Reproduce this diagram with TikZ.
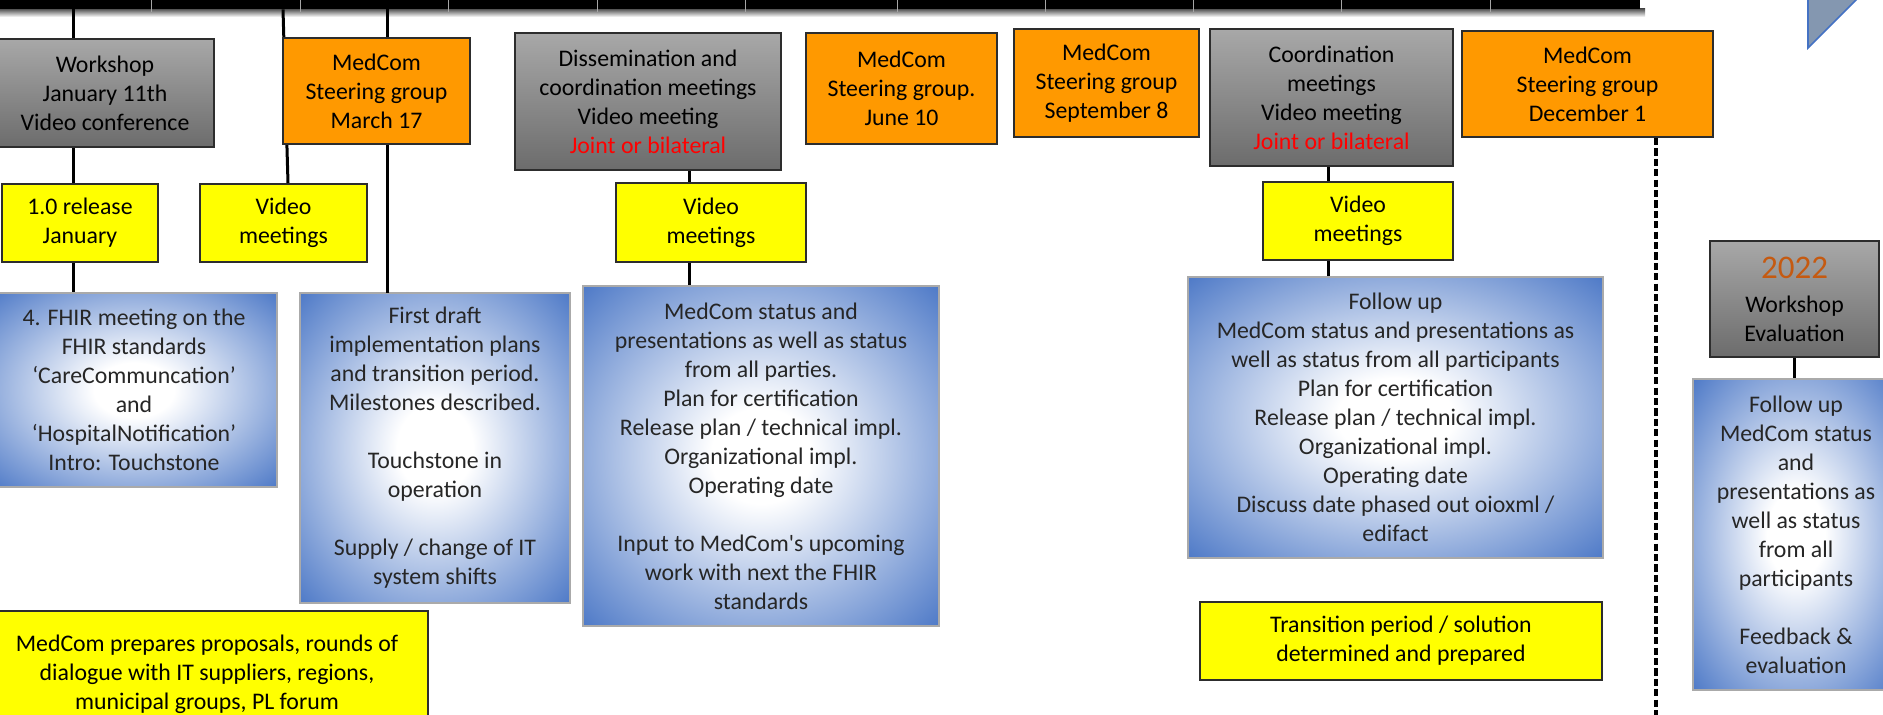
\documentclass[tikz,border=0pt]{standalone}
\usepackage{fontspec}
\setmainfont{Carlito}
\definecolor{orbox}{RGB}{255,153,0}
\definecolor{ylbox}{RGB}{255,255,0}
\definecolor{graytop}{RGB}{168,168,168}
\definecolor{graybot}{RGB}{108,108,108}
\definecolor{bluegl}{RGB}{68,114,196}
\definecolor{blueedge}{RGB}{170,170,170}
\definecolor{edgedark}{RGB}{45,45,45}
\definecolor{bluetext}{RGB}{38,38,38}
\definecolor{jred}{RGB}{255,0,0}
\definecolor{yr}{RGB}{197,90,17}
\definecolor{trifill}{RGB}{132,151,176}
\pgfdeclareradialshading{blueglow}{\pgfpointorigin}{color(0bp)=(white); color(7bp)=(white); color(37bp)=(bluegl); color(50bp)=(bluegl)}
\tikzset{
  base/.style={rectangle, inner sep=0pt, align=center, font=\fontsize{11.9}{14.5}\selectfont, line width=1pt},
  graybox/.style={base, draw=edgedark, top color=graytop, bottom color=graybot},
  orangebox/.style={base, draw=edgedark, fill=orbox},
  yellowbox/.style={base, draw=edgedark, fill=ylbox},
  bluebox/.style={base, draw=blueedge, shade, shading=blueglow, text=bluetext},
  conn/.style={line width=1.5pt, black},
  dashconn/.style={line width=1.8pt, black, dash pattern=on 3.6pt off 1.6pt},
}
\begin{document}
\begin{tikzpicture}[x=0.5pt, y=-0.5pt]
\useasboundingbox (0,0) rectangle (1883,714);
\fill[white] (0,0) rectangle (1883,714);

% x positions of connectors
\coordinate (xA) at (73,0);
\coordinate (xB) at (283,0);
\coordinate (xBb) at (288,0);
\coordinate (xC) at (387,0);
\coordinate (xD) at (689,0);
\coordinate (xE) at (1328,0);
\coordinate (xF) at (1794,0);
\coordinate (dend) at (1656,720);

% top bar
\shade[top color=black!75, bottom color=white] (-5,8) rectangle (1645,17);
\node[rectangle, fill=black, inner sep=0pt, minimum width=822.5pt, minimum height=7pt] (bar) at (817.5,2) {};
\foreach \tx in {151,300,448,597,745,897,1045,1193,1341,1490}
  \draw[gray!70, line width=0.4pt] (\tx,-2) -- (\tx,12);

% triangle top right
\filldraw[fill=trifill, draw=bluegl, line width=0.8pt] (1808,-5) -- (1808,48) -- (1861,-5) -- cycle;

% boxes
\node[graybox, minimum width=109pt, minimum height=54pt] (ws) at (105,93) {Workshop\\January 11th\\Video conference};
\node[yellowbox, minimum width=78pt, minimum height=39pt] (rel) at (80,223) {1.0 release\\January};
\node[bluebox, minimum width=143pt, minimum height=97pt] (fhir) at (134,390) {4. FHIR meeting on the\\FHIR standards\\‘CareCommuncation’\\and\\‘HospitalNotification’\\Intro: Touchstone};

\node[yellowbox, minimum width=83.5pt, minimum height=39pt] (vm1) at (283.5,223) {Video\\meetings};
\node[bluebox, minimum width=135pt, minimum height=155pt] (draft) at (435,448) {First draft\\implementation plans\\and transition period.\\Milestones described.\\[14.5pt]Touchstone in\\operation\\[14.5pt]Supply / change of IT\\system shifts};

\node[graybox, minimum width=133pt, minimum height=68.5pt] (dis) at (648,101.5) {Dissemination and\\coordination meetings\\Video meeting\\{\color{jred}Joint or bilateral}};
\node[yellowbox, minimum width=95pt, minimum height=39.5pt] (vm2) at (711,222.5) {Video\\meetings};
\node[bluebox, minimum width=178pt, minimum height=170pt] (stat) at (761,456) {MedCom status and\\presentations as well as status\\from all parties.\\Plan for certification\\Release plan / technical impl.\\Organizational impl.\\Operating date\\[14.5pt]Input to MedCom\textquotesingle s upcoming\\work with next the FHIR\\standards};

\node[orangebox, minimum width=95.5pt, minimum height=55.5pt] (sg2) at (901.5,88.5) {MedCom\\Steering group.\\June 10};
\node[orangebox, minimum width=92.5pt, minimum height=54pt] (sg3) at (1106.5,83) {MedCom\\Steering group\\September 8};

\node[graybox, minimum width=121.5pt, minimum height=68.5pt] (coord) at (1331.5,97.5) {Coordination\\meetings\\Video meeting\\{\color{jred}Joint or bilateral}};
\node[yellowbox, minimum width=95pt, minimum height=39pt] (vm3) at (1358,221) {Video\\meetings};
\node[bluebox, minimum width=207.5pt, minimum height=140.5pt] (fol) at (1395.5,417.5) {Follow up\\MedCom status and presentations as\\well as status from all participants\\Plan for certification\\Release plan / technical impl.\\Organizational impl.\\Operating date\\Discuss date phased out oioxml /\\edifact};

\node[orangebox, minimum width=125.5pt, minimum height=53pt] (sg4) at (1587.5,84) {MedCom\\Steering group\\December 1};

\node[graybox, minimum width=84.5pt, minimum height=58pt] (ev) at (1794.5,299) {{\fontsize{16.5}{17}\selectfont\color{yr}2022}\\[2.5pt]Workshop\\Evaluation};
\node[bluebox, minimum width=103pt, minimum height=155.5pt] (fol2) at (1796,534.5) {Follow up\\MedCom status\\and\\presentations as\\well as status\\from all\\participants\\[14.5pt]Feedback \&\\evaluation};

\node[yellowbox, minimum width=221pt, minimum height=63pt] (prep) at (207,674) {MedCom prepares proposals, rounds of\\dialogue with IT suppliers, regions,\\municipal groups, PL forum};
\node[yellowbox, minimum width=201pt, minimum height=39pt] (trans) at (1401,641) {Transition period / solution\\determined and prepared};

% connectors
\draw[conn] (bar.south -| xA) -- (ws.north -| xA);
\draw[conn] (ws.south -| xA) -- (rel.north -| xA);
\draw[conn] (rel.south -| xA) -- (fhir.north -| xA);
\draw[conn] (bar.south -| xB) -- (vm1.north -| xBb);
\draw[conn] (bar.south -| xC) -- ([yshift=-0.5pt]draft.north -| xC);
\draw[conn] (dis.south -| xD) -- (vm2.north -| xD);
\draw[conn] (vm2.south -| xD) -- (stat.north -| xD);
\draw[conn] (coord.south -| xE) -- (vm3.north -| xE);
\draw[conn] (vm3.south -| xE) -- (fol.north -| xE);
\draw[conn] (ev.south -| xF) -- (fol2.north -| xF);
\draw[dashconn] (sg4.south -| dend) -- (dend);

% MedCom March 17 drawn over its connectors
\node[orangebox, minimum width=93.5pt, minimum height=53pt] (sg1) at (376.5,91) {MedCom\\Steering group\\March 17};
\end{tikzpicture}
\end{document}
